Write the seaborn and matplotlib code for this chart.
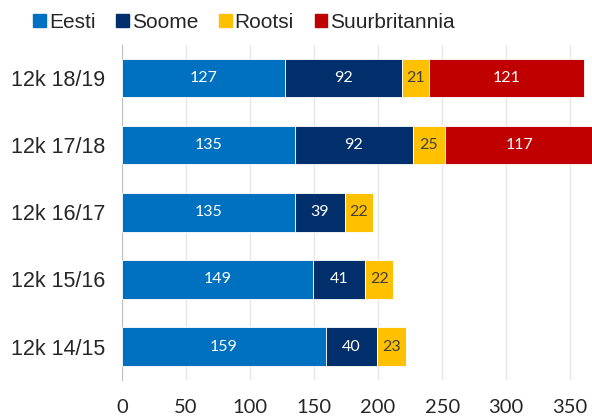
import matplotlib
matplotlib.use("Agg")
import matplotlib.pyplot as plt
import seaborn as sns
import pandas as pd
from matplotlib.patches import Patch

categories = ["12k 18/19", "12k 17/18", "12k 16/17", "12k 15/16", "12k 14/15"]
series = ["Eesti", "Soome", "Rootsi", "Suurbritannia"]
eesti = [127, 135, 135, 149, 159]
soome = [92, 92, 39, 41, 40]
rootsi = [21, 25, 22, 22, 23]
suurbritannia = [121, 117, 0, 0, 0]
colors = ["#0070C0", "#002F6C", "#FFC000", "#C00000"]
label_colors = ["white", "white", "#404040", "white"]

sns.set_style("white")
plt.rcParams["font.family"] = ["Liberation Sans", "DejaVu Sans"]

fig = plt.figure(figsize=(5.92, 4.19), dpi=100)
ax = fig.add_axes([0.206, 0.093, 0.794, 0.8])

values = [eesti, soome, rootsi, suurbritannia]
left = [0] * len(categories)
for name, vals, col, lc in zip(series, values, colors, label_colors):
    df = pd.DataFrame({"cat": categories, "val": vals, "left": left})
    bars = ax.barh(df["cat"], df["val"], left=df["left"], color=col, height=0.57,
                   edgecolor="white", linewidth=0.6, zorder=3)
    for b, v in zip(bars, vals):
        if v > 0:
            ax.text(b.get_x() + b.get_width() / 2, b.get_y() + b.get_height() / 2,
                    str(v), ha="center", va="center", color=lc, fontsize=11.5,
                    family=["Lato", "DejaVu Sans"], zorder=4)
    left = [l + v for l, v in zip(left, vals)]

ax.set_xlim(0, 367)
ax.set_ylim(4.5, -0.5)
ax.set_xticks(range(0, 351, 50))
ax.grid(axis="x", color="#e6e6e6", linewidth=1, zorder=0)
ax.grid(axis="y", visible=False)
for s in ["top", "right", "bottom"]:
    ax.spines[s].set_visible(False)
ax.spines["left"].set_color("#bfbfbf")
ax.tick_params(axis="x", length=0, pad=14, labelsize=14.5)
ax.tick_params(axis="y", length=0, pad=12, labelsize=15.5)
for t in ax.get_xticklabels():
    t.set_family(["Lato", "DejaVu Sans"])

handles = [Patch(color=c, label=n) for n, c in zip(series, colors)]
fig.legend(handles=handles, loc="upper left", bbox_to_anchor=(0.035, 1.0), ncol=4,
           frameon=False, fontsize=15, handlelength=0.6, handleheight=0.6,
           handletextpad=0.15, columnspacing=1.0, borderaxespad=0.2)

fig.savefig("out.png", dpi=100)
